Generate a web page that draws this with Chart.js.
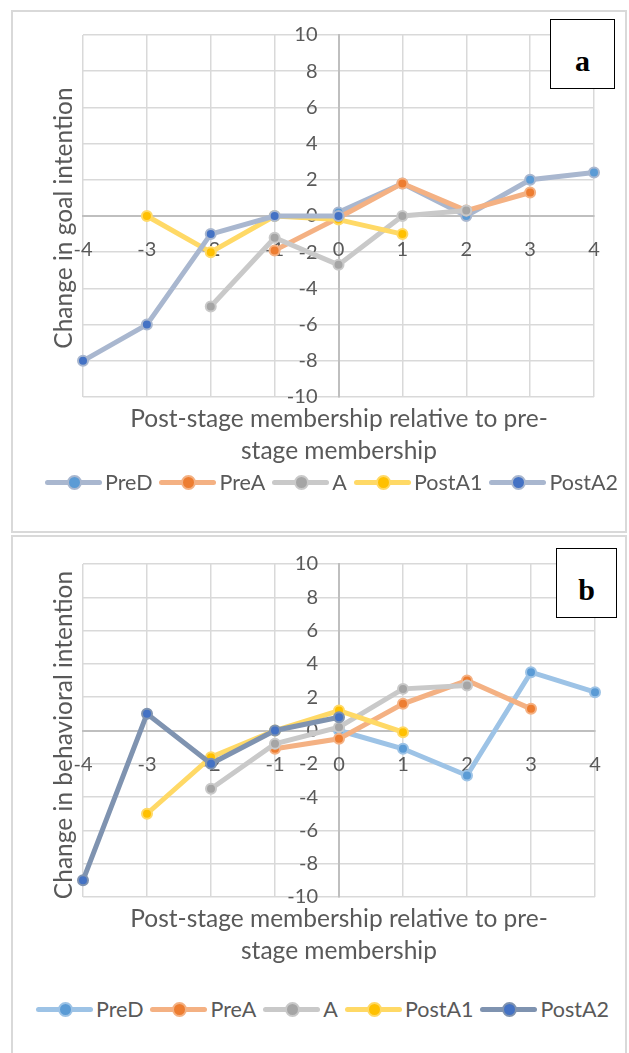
<!DOCTYPE html>
<html>
<head>
<meta charset="utf-8">
<script src="https://cdn.jsdelivr.net/npm/chart.js@4.4.1/dist/chart.umd.min.js"></script>
<style>
  body { margin: 0; background: #fff; font-family: Lato, sans-serif; color: #595959; }
  .panel { position: absolute; left: 11px; width: 616px; border: 2px solid #d9d9d9; box-sizing: border-box; }
  canvas { position: absolute; left: 0; }
  .ytitle { position: absolute; width: 420px; text-align: center; font-size: 24.5px; line-height: 30px; transform: rotate(-90deg); white-space: nowrap; }
  .xtitle { position: absolute; left: 83px; width: 512px; text-align: center; font-size: 24.5px; line-height: 32px; white-space: nowrap; }
  .legend { position: absolute; display: flex; align-items: center; font-size: 21.5px; white-space: nowrap; }
  .item { display: flex; align-items: center; margin-right: 7px; }
  .swatch { position: relative; width: 57px; height: 20px; margin-right: 3px; }
  .swatch .ln { position: absolute; left: 0; right: 0; top: 8px; height: 5px; border-radius: 3px; }
  .swatch .mk { position: absolute; left: 22px; top: 3px; width: 11px; height: 11px; border-radius: 50%; border: 2px solid; }
  .letter { position: absolute; background: #fff; border: 1px solid #000; box-sizing: border-box; text-align: center;
            font-family: "Liberation Serif", serif; font-weight: bold; font-size: 30px; line-height: 30px; color: #000; }
</style>
</head>
<body>
<div class="panel" style="top:10px;height:523px"></div>
<div class="panel" style="top:535px;height:530px"></div>

<canvas id="chartA" width="629" height="420" style="top:0"></canvas>
<canvas id="chartB" width="629" height="400" style="top:530px"></canvas>

<div class="ytitle" style="left:-147px;top:203px">Change in goal intention</div>
<div class="xtitle" style="top:402px">Post-stage membership relative to pre-<br>stage membership</div>
<div class="legend" id="legendA" style="left:45px;top:469px"></div>
<div class="letter" style="left:550px;top:19px;width:65px;height:70px;padding-top:26px">a</div>

<div class="ytitle" style="left:-147px;top:720px">Change in behavioral intention</div>
<div class="xtitle" style="top:902px">Post-stage membership relative to pre-<br>stage membership</div>
<div class="legend" id="legendB" style="left:36px;top:996px"></div>
<div class="letter" style="left:556px;top:548px;width:61px;height:70px;padding-top:26px">b</div>

<script>
const xValues = [-4, -3, -2, -1, 0, 1, 2, 3, 4];
const seriesNames = ['PreD', 'PreA', 'A', 'PostA1', 'PostA2'];

// panel a: change in goal intention
const preDGoal   = [null, null, null, null, 0.2, 1.8, 0, 2.0, 2.4];
const preAGoal   = [null, null, null, -1.9, -0.1, 1.8, 0.3, 1.3, null];
const aGoal      = [null, null, -5, -1.2, -2.7, 0, 0.3, null, null];
const postA1Goal = [null, 0, -2, 0, -0.2, -1, null, null, null];
const postA2Goal = [-8, -6, -1, 0, 0, null, null, null, null];

// panel b: change in behavioral intention
const preDBeh   = [null, null, null, null, 0, -1.1, -2.7, 3.5, 2.3];
const preABeh   = [null, null, null, -1.1, -0.5, 1.6, 3.0, 1.3, null];
const aBeh      = [null, null, -3.5, -0.8, 0.2, 2.5, 2.7, null, null];
const postA1Beh = [null, -5, -1.6, 0, 1.2, -0.1, null, null, null];
const postA2Beh = [-9, 1, -2, 0, 0.8, null, null, null, null];

const yTicksMin = -10, yTicksMax = 10, yStep = 2;

const markerColors = ['#5b9bd5', '#ed7d31', '#a5a5a5', '#ffc000', '#4472c4'];
const lineColorsA = ['#a9b7cf', '#f4b183', '#c9c9c9', '#ffd966', '#a9b7cf'];
const lineColorsB = ['#9dc3e6', '#f4b183', '#c9c9c9', '#ffd966', '#7f93b0'];

// Excel-style tick labels next to the crossing axes (x under y=0, y left of x=0)
const crossLabels = {
  id: 'crossLabels',
  beforeDatasetsDraw(chart) {
    const { ctx, scales: { x, y } } = chart;
    const x0 = x.getPixelForValue(0), y0 = y.getPixelForValue(0);
    ctx.save();
    ctx.fillStyle = '#595959';
    ctx.font = '20px Lato';
    ctx.textBaseline = 'middle';
    ctx.textAlign = 'right';
    y.ticks.forEach(t => ctx.fillText(String(t.value), x0 - 21, y.getPixelForValue(t.value)));
    ctx.textAlign = 'center';
    x.ticks.forEach(t => ctx.fillText(String(t.value), x.getPixelForValue(t.value), y0 + 34));
    ctx.restore();
  }
};

function buildChart(id, series, lineColors, padding) {
  return new Chart(document.getElementById(id), {
    type: 'line',
    data: {
      datasets: series.map((vals, i) => ({
        label: seriesNames[i],
        data: vals.map((v, j) => ({ x: xValues[j], y: v })),
        borderColor: lineColors[i],
        borderWidth: 5,
        pointRadius: 5,
        pointBorderWidth: 2,
        pointBackgroundColor: markerColors[i],
        pointBorderColor: lineColors[i],
        tension: 0,
        order: series.length - i,
        clip: false
      }))
    },
    options: {
      responsive: false,
      animation: false,
      layout: { padding },
      plugins: { legend: { display: false }, tooltip: { enabled: false } },
      scales: {
        x: {
          type: 'linear', min: -4, max: 4,
          position: { y: 0 },
          ticks: { stepSize: 1, display: false },
          grid: { color: '#d9d9d9', lineWidth: 1.5, drawTicks: false },
          border: { color: '#bfbfbf', width: 2 }
        },
        y: {
          min: yTicksMin, max: yTicksMax,
          position: { x: 0 },
          ticks: { stepSize: yStep, display: false },
          grid: { color: '#d9d9d9', lineWidth: 1.5, drawTicks: false },
          border: { color: '#bfbfbf', width: 2 }
        }
      }
    },
    plugins: [crossLabels]
  });
}

function buildLegend(id, lineColors) {
  document.getElementById(id).innerHTML = seriesNames.map((name, i) => `
    <div class="item">
      <span class="swatch">
        <span class="ln" style="background:${lineColors[i]}"></span>
        <span class="mk" style="background:${markerColors[i]};border-color:${lineColors[i]}"></span>
      </span>
      <span>${name}</span>
    </div>`).join('');
}

buildChart('chartA', [preDGoal, preAGoal, aGoal, postA1Goal, postA2Goal], lineColorsA,
  { left: 83, top: 35, right: 35, bottom: 23 });
buildChart('chartB', [preDBeh, preABeh, aBeh, postA1Beh, postA2Beh], lineColorsB,
  { left: 83, top: 34, right: 34, bottom: 33 });

buildLegend('legendA', lineColorsA);
buildLegend('legendB', lineColorsB);
</script>
</body>
</html>
